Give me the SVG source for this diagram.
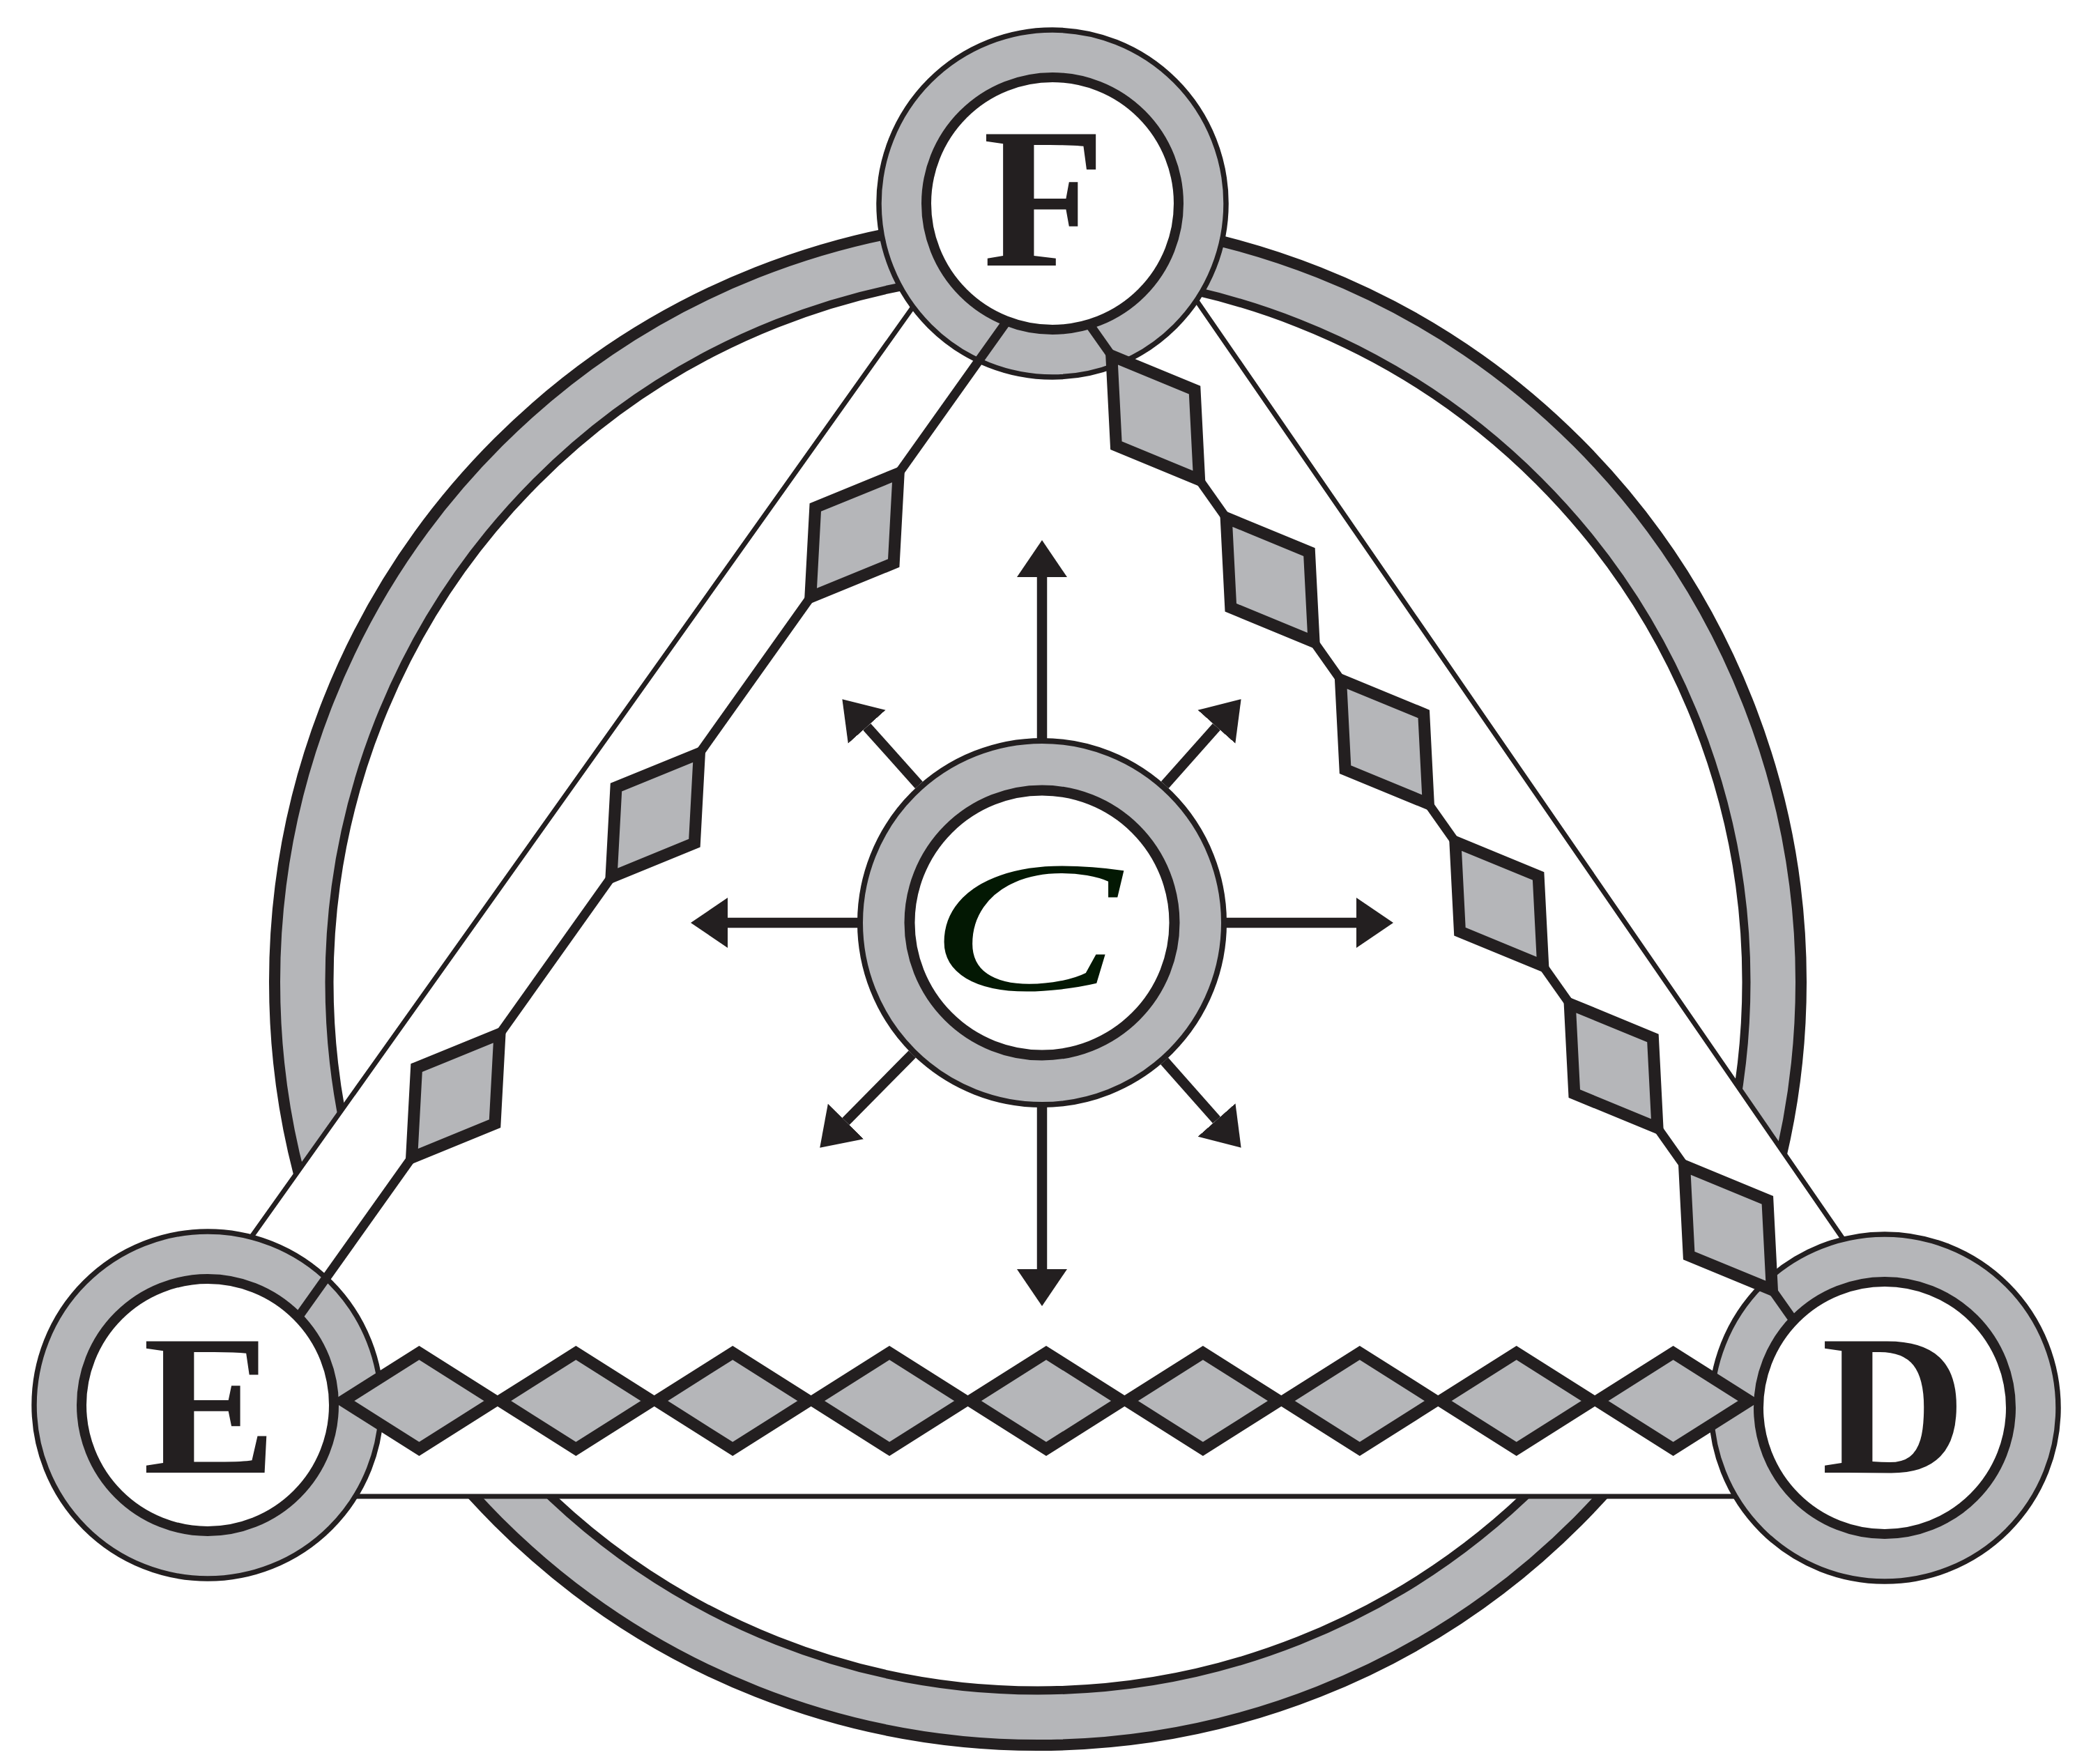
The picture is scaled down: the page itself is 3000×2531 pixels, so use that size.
<svg xmlns="http://www.w3.org/2000/svg" width="3000" height="2531" viewBox="0 0 3000 2531">
<defs>
<style>
.ring{fill:#b5b6b9;stroke:#231f20;stroke-width:7.5}
.core{fill:#fff;stroke:#231f20;stroke-width:14}
.lbl{font-family:"Liberation Serif","Times New Roman",serif;font-weight:bold;font-size:288px;fill:#231f20;text-anchor:middle}
.chain{fill:none;stroke:#231f20;stroke-width:13}
.dia{fill:#b5b6b9;stroke:#231f20;stroke-width:17;stroke-linejoin:miter}
.arr{stroke:#231f20;stroke-width:14.5;fill:none;marker-end:url(#ah)}
</style>
<polygon id="rh" points="-109,0 0,-69 109,0 0,69"/>
<marker id="ah" markerUnits="userSpaceOnUse" markerWidth="54" markerHeight="76" viewBox="0 0 54 76" refX="0" refY="38" orient="auto"><path d="M0,2 L53,38 L0,74 Z" fill="#231f20"/></marker>
</defs>
<rect width="3000" height="2531" fill="#fff"/>
<g id="outer-ring">
<circle cx="1489" cy="1409" r="1095" fill="#b5b6b9" stroke="#231f20" stroke-width="16"/>
<circle cx="1489" cy="1409" r="1016.5" fill="#fff" stroke="#231f20" stroke-width="12"/>
</g>
<g id="triangle">
<polygon points="1445.3,250 236,1950 200,2147 2800,2147 2763,1950 1591.8,250" fill="#fff" stroke="#231f20" stroke-width="7"/>
</g>
<g id="node-F">
<circle class="ring" cx="1510" cy="292" r="249"/>
<circle class="core" cx="1510" cy="292" r="181"/>
<text class="lbl" x="1498" y="381">F</text>
</g>
<g id="node-E">
<circle class="ring" cx="298" cy="2016" r="249"/>
<circle class="core" cx="298" cy="2016" r="181"/>
<text class="lbl" x="301" y="2113">E</text>
</g>
<g id="node-D">
<circle class="ring" cx="2704" cy="2020" r="249"/>
<circle class="core" cx="2704" cy="2020" r="181"/>
<text class="lbl" x="2717" y="2113">D</text>
</g>
<g id="connectors">
<line class="chain" x1="1444.7" y1="460.7" x2="428" y2="1889.7"/>
<line class="chain" x1="1562.7" y1="465.1" x2="2573.3" y2="1894.4"/>
<use href="#rh" class="dia" transform="translate(1226,768) rotate(125.43)"/>
<use href="#rh" class="dia" transform="translate(940.2,1169.7) rotate(125.43)"/>
<use href="#rh" class="dia" transform="translate(653.8,1572.2) rotate(125.43)"/>
<use href="#rh" class="dia" transform="translate(1657.7,599.4) rotate(54.74)"/>
<use href="#rh" class="dia" transform="translate(1822.1,831.9) rotate(54.74)"/>
<use href="#rh" class="dia" transform="translate(1986.4,1064.3) rotate(54.74)"/>
<use href="#rh" class="dia" transform="translate(2150.8,1296.8) rotate(54.74)"/>
<use href="#rh" class="dia" transform="translate(2315.1,1529.3) rotate(54.74)"/>
<use href="#rh" class="dia" transform="translate(2479.5,1761.7) rotate(54.74)"/>
<use href="#rh" class="dia" transform="translate(601.4,2010)"/>
<use href="#rh" class="dia" transform="translate(826.3,2010)"/>
<use href="#rh" class="dia" transform="translate(1051.2,2010)"/>
<use href="#rh" class="dia" transform="translate(1276.1,2010)"/>
<use href="#rh" class="dia" transform="translate(1501,2010)"/>
<use href="#rh" class="dia" transform="translate(1725.9,2010)"/>
<use href="#rh" class="dia" transform="translate(1950.8,2010)"/>
<use href="#rh" class="dia" transform="translate(2175.7,2010)"/>
<use href="#rh" class="dia" transform="translate(2400.6,2010)"/>
</g>
<g id="c-arrows">
<line class="arr" x1="1495" y1="1062" x2="1495" y2="828"/>
<line class="arr" x1="1495" y1="1586" x2="1495" y2="1821"/>
<line class="arr" x1="1232" y1="1324" x2="1044" y2="1324"/>
<line class="arr" x1="1758" y1="1324" x2="1946" y2="1324"/>
<line class="arr" x1="1318.4" y1="1126.4" x2="1243.7" y2="1042.8"/>
<line class="arr" x1="1671.3" y1="1126.1" x2="1745.4" y2="1042.8"/>
<line class="arr" x1="1308.8" y1="1512.5" x2="1213.5" y2="1609"/>
<line class="arr" x1="1670.6" y1="1522.4" x2="1745.5" y2="1607"/>
</g>
<g id="node-C">
<circle class="ring" cx="1495" cy="1324" r="261" style="stroke-width:8"/>
<circle class="core" cx="1495" cy="1324" r="190" style="stroke-width:15"/>
<text transform="translate(1470,1420) scale(1.55,1)" x="0" y="0" font-family="Liberation Serif, serif" font-style="italic" font-size="268" fill="#031803" text-anchor="middle">C</text>
</g>
</svg>
